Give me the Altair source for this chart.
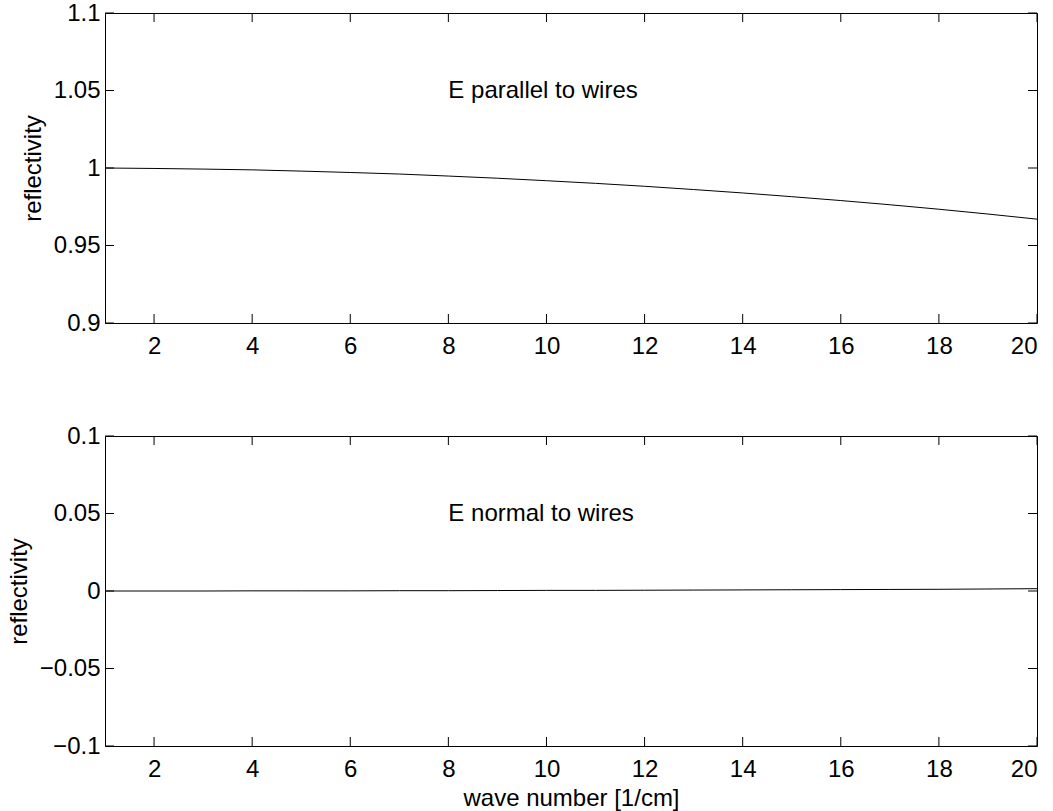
import altair as alt
import pandas as pd

# ---- data ----
wave = [1, 2, 3, 4, 5, 6, 7, 8, 9, 10, 11, 12, 13, 14, 15, 16, 17, 18, 19, 20]
refl_parallel = [1.0000, 0.9997, 0.9993, 0.9988, 0.9980, 0.9971, 0.9961, 0.9948,
                 0.9934, 0.9918, 0.9901, 0.9882, 0.9861, 0.9839, 0.9815, 0.9790,
                 0.9763, 0.9734, 0.9703, 0.9670]
refl_normal = [0.0000, 0.0000, 0.0000, 0.0001, 0.0001, 0.0001, 0.0002, 0.0002,
               0.0003, 0.0004, 0.0004, 0.0005, 0.0006, 0.0007, 0.0008, 0.0009,
               0.0010, 0.0011, 0.0013, 0.0015]
x_ticks = [2, 4, 6, 8, 10, 12, 14, 16, 18, 20]
y_ticks_top = [0.9, 0.95, 1.0, 1.05, 1.1]
y_ticks_bottom = [-0.1, -0.05, 0.0, 0.05, 0.1]
label_texts = ["E parallel to wires", "E normal to wires"]
label_x = [8, 8]
label_y = [1.05, 0.05]

W, H = 932, 310
TICK = 9
FONT = "Liberation Sans"
FS = 24


def panel(yvals, ydomain, yticks, text, tx, ty, show_xtitle):
    xscale = alt.Scale(domain=[1, 20], nice=False, zero=False)
    yscale = alt.Scale(domain=ydomain, nice=False, zero=False)

    xaxis_kw = dict(values=x_ticks, ticks=False, tickSize=0, domain=False, grid=False,
                    labelPadding=11, format="~f", labelFontSize=FS, labelFont=FONT,
                    labelColor="black", titleFontSize=FS, titleFont=FONT,
                    titleFontWeight="normal", titleColor="black", titlePadding=5)
    xaxis_kw["title"] = "wave number [1/cm]" if show_xtitle else None
    xaxis = alt.Axis(**xaxis_kw)
    yaxis = alt.Axis(values=yticks, ticks=False, tickSize=0, domain=False, grid=False,
                     labelPadding=5, format="~f", labelFontSize=FS, labelFont=FONT,
                     labelColor="black", title="reflectivity", titleFontSize=FS,
                     titleFont=FONT, titleFontWeight="normal", titleColor="black",
                     titlePadding=8)

    line = alt.Chart(pd.DataFrame({"wave": wave, "refl": yvals})).mark_line(
        color="black", strokeWidth=1
    ).encode(
        x=alt.X("wave:Q", scale=xscale, axis=xaxis),
        y=alt.Y("refl:Q", scale=yscale, axis=yaxis),
    )

    xt = pd.DataFrame({"t": x_ticks})
    yt = pd.DataFrame({"t": yticks})
    tick_style = dict(color="black", strokeWidth=1)
    bottom_ticks = alt.Chart(xt).mark_rule(**tick_style).encode(
        x=alt.X("t:Q", scale=xscale, axis=xaxis), y=alt.value(H), y2=alt.value(H - TICK))
    top_ticks = alt.Chart(xt).mark_rule(**tick_style).encode(
        x=alt.X("t:Q", scale=xscale, axis=xaxis), y=alt.value(0), y2=alt.value(TICK))
    left_ticks = alt.Chart(yt).mark_rule(**tick_style).encode(
        y=alt.Y("t:Q", scale=yscale, axis=yaxis), x=alt.value(0), x2=alt.value(TICK))
    right_ticks = alt.Chart(yt).mark_rule(**tick_style).encode(
        y=alt.Y("t:Q", scale=yscale, axis=yaxis), x=alt.value(W), x2=alt.value(W - TICK))

    label = alt.Chart(pd.DataFrame({"x": [tx], "y": [ty], "s": [text]})).mark_text(
        align="left", baseline="middle", fontSize=FS, font=FONT, color="black"
    ).encode(
        x=alt.X("x:Q", scale=xscale, axis=xaxis),
        y=alt.Y("y:Q", scale=yscale, axis=yaxis),
        text="s:N",
    )

    return alt.layer(line, bottom_ticks, top_ticks, left_ticks, right_ticks, label).properties(
        width=W, height=H)


top = panel(refl_parallel, [0.9, 1.1], y_ticks_top, label_texts[0], label_x[0], label_y[0], False)
bottom = panel(refl_normal, [-0.1, 0.1], y_ticks_bottom, label_texts[1], label_x[1], label_y[1], True)

chart = alt.vconcat(top, bottom, spacing=64).properties(
    padding={"left": 6, "top": 0, "right": 4, "bottom": 0},
    background="white",
).configure_view(stroke="black", strokeWidth=1)

chart.save("out.html", embed_options={"renderer": "svg", "actions": False})
